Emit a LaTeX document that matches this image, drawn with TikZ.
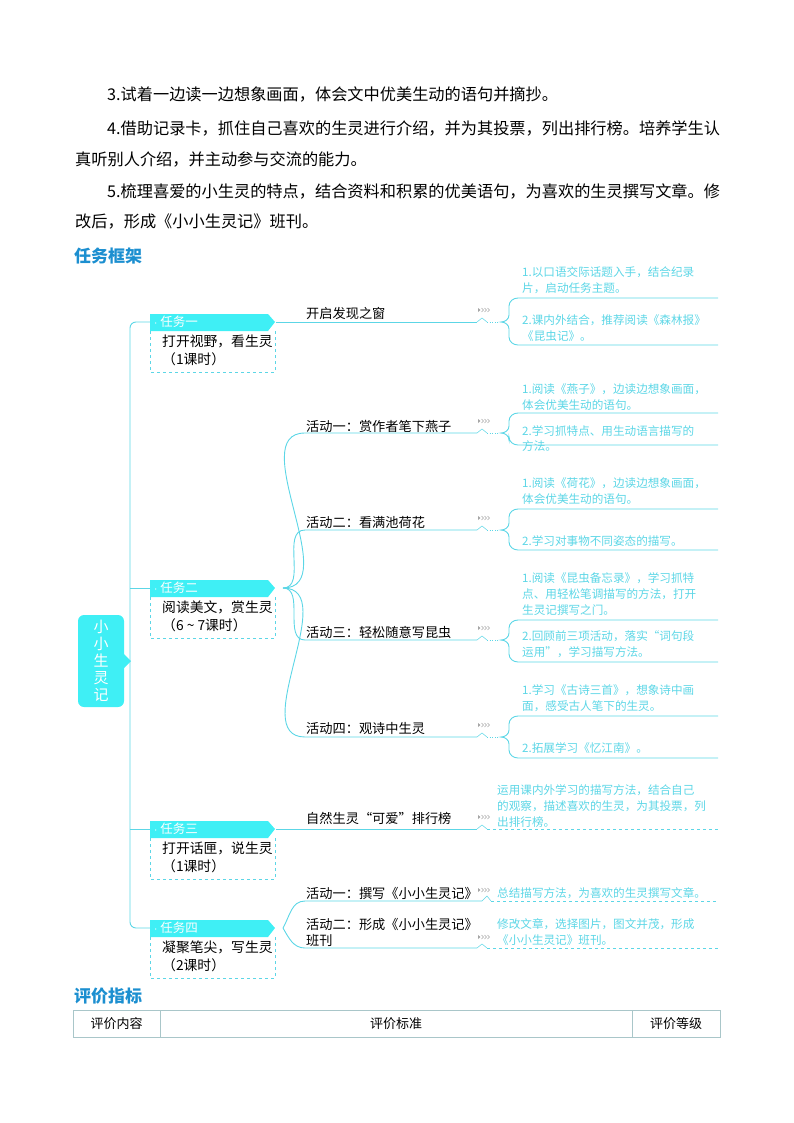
\documentclass[tikz,border=0pt]{standalone}
\usepackage{fontspec}
\setmainfont{Noto Sans CJK SC}
\definecolor{cy}{HTML}{3FEFF5}
\definecolor{cyl}{HTML}{5CD6E6}
\definecolor{hd}{HTML}{1C8FD0}
\definecolor{tb}{HTML}{A9C6C9}
\tikzset{
 body/.style={anchor=west,inner sep=0pt,font=\fontsize{16.2}{18}\selectfont},
 lab/.style={anchor=west,inner sep=0pt,font=\fontsize{13.2}{15}\selectfont},
 tlab/.style={anchor=west,inner sep=0pt,font=\fontsize{13.8}{15}\selectfont},
 rt/.style={anchor=west,inner sep=0pt,text=cyl,font=\fontsize{11.6}{13}\selectfont},
 ln/.style={cyl,line width=0.9pt},
 chev/.style={gray!70,line width=0.4pt},
}
\newcommand{\chevs}[2]{% x,y of small >>> mark
 \fill[gray!70] (#1,#2-2) -- (#1+2.5,#2) -- (#1,#2+2) -- cycle;
 \draw[chev] (#1+3.5,#2-2) -- (#1+5.5,#2) -- (#1+3.5,#2+2);
 \draw[chev] (#1+6.5,#2-2) -- (#1+8.5,#2) -- (#1+6.5,#2+2);
 \draw[chev] (#1+9.5,#2-2) -- (#1+11.5,#2) -- (#1+9.5,#2+2);
}
\newcommand{\taskbox}[5]{% y, name, header, line1, line2
 \fill[cy] (150,#1-8) -- (268,#1-8) -- (275,#1) -- (268,#1+9) -- (150,#1+9) -- cycle;
 \node[anchor=west,inner sep=0pt,text=white,font=\fontsize{12.5}{13}\selectfont] (#2) at (154,#1) {$\cdot$ #3};
 \draw[cyl,dashed,line width=0.5pt] (150,#1+9) -- (150,#1+50) -- (275,#1+50) -- (275,#1+9);
 \node[tlab] at (162,#1+19) {#4};
 \node[tlab] at (162,#1+37) {#5};
}
\newcommand{\rbr}[3]{% center, top line y, bottom line y
 \draw[cyl,line width=0.5pt] (477,#1) -- (482,#1-4) -- (487,#1);
 \draw[cyl,dotted,line width=0.6pt] (487,#1) -- (500,#1);
 \chevs{478}{#1-12}
 \draw[ln] (718,#2) -- (518,#2) to[out=180,in=90] (509,#2+8) -- (509,#1-7) to[out=-90,in=0] (501,#1)
   to[out=0,in=90] (509,#1+7) -- (509,#3-8) to[out=-90,in=180] (518,#3) -- (718,#3);
}
\begin{document}
\begin{tikzpicture}[x=1pt,y=-1pt]
\useasboundingbox (0,0) rectangle (794,1123);
\node[body] at (107,95) {3.试着一边读一边想象画面，体会文中优美生动的语句并摘抄。};
\node[body] at (107,128) {4.借助记录卡，抓住自己喜欢的生灵进行介绍，并为其投票，列出排行榜。培养学生认};
\node[body] at (75,159) {真听别人介绍，并主动参与交流的能力。};
\node[body] at (107,191) {5.梳理喜爱的小生灵的特点，结合资料和积累的优美语句，为喜欢的生灵撰写文章。修};
\node[body] at (75,222) {改后，形成《小小生灵记》班刊。};
\node[body,text=hd,font=\fontsize{17}{18}\selectfont\bfseries] (h1) at (74,256) {任务框架};
\node[body,text=hd,font=\fontsize{17}{18}\selectfont\bfseries] (h2) at (74,996) {评价指标};
% root
\fill[cy,rounded corners=6pt] (78,615) rectangle (124,707);
\fill[cy] (123,653) -- (131,661) -- (123,669) -- cycle;
\node[text=white,font=\fontsize{15}{17}\selectfont,align=center] (root) at (101,661) {小\\小\\生\\灵\\记};
% trunk
\draw[ln,rounded corners=6pt] (150,322) -- (130,322) -- (130,928) -- (150,928);
\draw[ln] (130,588) -- (150,588);
\draw[ln] (130,829) -- (150,829);
% tasks
\taskbox{322}{t1}{任务一}{打开视野，看生灵}{（1课时）}
\taskbox{588}{t2}{任务二}{阅读美文，赏生灵}{（6 \textasciitilde\ 7课时）}
\taskbox{829}{t3}{任务三}{打开话匣，说生灵}{（1课时）}
\taskbox{928}{t4}{任务四}{凝聚笔尖，写生灵}{（2课时）}
% task1 branch
\draw[ln] (276,322) -- (477,322);
\node[lab] (a0) at (306,313) {开启发现之窗};
\rbr{322}{298}{345}
\node[rt] at (522,272) {1.以口语交际话题入手，结合纪录};
\node[rt] at (522,288) {片，启动任务主题。};
\node[rt] at (522,320) {2.课内外结合，推荐阅读《森林报》};
\node[rt] at (522,336) {《昆虫记》。};
% task2 branches
\foreach \yy in {433,530,640,737}{
 \draw[ln] (283,588) to[out=0,in=180] (305,\yy) -- (477,\yy);
}
\node[lab] (a1) at (306,426) {活动一：赏作者笔下燕子};
\node[lab] (a2) at (306,522) {活动二：看满池荷花};
\node[lab] (a3) at (306,632) {活动三：轻松随意写昆虫};
\node[lab] (a4) at (306,729) {活动四：观诗中生灵};
\rbr{433}{413}{445}
\node[rt] at (522,389) {1.阅读《燕子》，边读边想象画面，};
\node[rt] at (522,405) {体会优美生动的语句。};
\node[rt] at (522,431) {2.学习抓特点、用生动语言描写的};
\node[rt] at (522,446) {方法。};
\rbr{530}{509}{550}
\node[rt] at (522,483) {1.阅读《荷花》，边读边想象画面，};
\node[rt] at (522,499) {体会优美生动的语句。};
\node[rt] at (522,541) {2.学习对事物不同姿态的描写。};
\rbr{640}{620}{662}
\node[rt] at (522,578) {1.阅读《昆虫备忘录》，学习抓特};
\node[rt] at (522,594) {点、用轻松笔调描写的方法，打开};
\node[rt] at (522,610) {生灵记撰写之门。};
\node[rt] at (522,636) {2.回顾前三项活动，落实“词句段};
\node[rt] at (522,652) {运用”，学习描写方法。};
\rbr{737}{716}{758}
\node[rt] at (522,690) {1.学习《古诗三首》，想象诗中画};
\node[rt] at (522,706) {面，感受古人笔下的生灵。};
\node[rt] at (522,748) {2.拓展学习《忆江南》。};
% task3
\draw[ln] (276,829) -- (477,829);
\node[lab] (a5) at (306,818) {自然生灵“可爱”排行榜};
\draw[cyl,line width=0.5pt] (477,829) -- (482,825) -- (487,829);
\chevs{478}{817}
\draw[cyl,dashed,line width=0.5pt] (487,829) -- (718,829);
\node[rt] at (497,790) {运用课内外学习的描写方法，结合自己};
\node[rt] at (497,806) {的观察，描述喜欢的生灵，为其投票，列};
\node[rt] at (497,822) {出排行榜。};
% task4
\draw[ln] (283,928) to[out=60,in=180] (305,901) -- (482,901);
\draw[ln] (283,928) to[out=-60,in=180] (305,948) -- (477,948);
\node[lab] (a6) at (306,893) {活动一：撰写《小小生灵记》};
\node[lab] (a7) at (306,924) {活动二：形成《小小生灵记》};
\node[lab] at (306,940) {班刊};
\chevs{478}{890}
\draw[cyl,line width=0.5pt] (482,901) -- (487,896) -- (491,901);
\draw[cyl,dashed,line width=0.5pt] (491,901) -- (718,901);
\chevs{478}{937}
\draw[cyl,line width=0.5pt] (477,948) -- (482,944) -- (487,948);
\draw[cyl,dashed,line width=0.5pt] (487,948) -- (718,948);
\node[rt] at (497,893) {总结描写方法，为喜欢的生灵撰写文章。};
\node[rt] at (497,924) {修改文章，选择图片，图文并茂，形成};
\node[rt] at (497,940) {《小小生灵记》班刊。};
% table
\draw[tb,line width=0.8pt] (73,1010) rectangle (720,1037);
\draw[tb,line width=0.8pt] (160,1010) -- (160,1037) (632,1010) -- (632,1037);
\node[font=\fontsize{13}{14}\selectfont] (c1) at (116.5,1023.5) {评价内容};
\node[font=\fontsize{13}{14}\selectfont] (c2) at (396,1023.5) {评价标准};
\node[font=\fontsize{13}{14}\selectfont] (c3) at (676,1023.5) {评价等级};
\end{tikzpicture}
\end{document}
